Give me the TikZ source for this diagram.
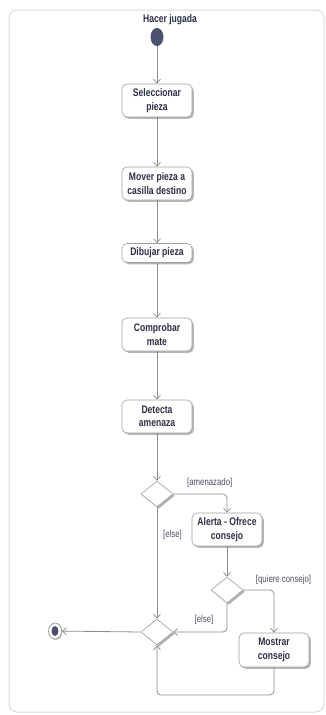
\documentclass[tikz,border=0pt]{standalone}
\usepackage{fontspec}
\setmainfont{Liberation Sans}[FakeStretch=0.78]
\usetikzlibrary{shapes.geometric,arrows.meta,shadows}
\definecolor{txt}{HTML}{2D3047}
\definecolor{lin}{HTML}{8C8C8C}
\definecolor{bord}{HTML}{A0A0A0}
\definecolor{frm}{HTML}{D9D9D2}
\definecolor{dot}{HTML}{4B5270}
\definecolor{shd}{HTML}{B4B4B4}
\begin{document}
\begin{tikzpicture}[x=1pt,y=-1pt,
  actbox/.style={draw=bord,fill=white,rounded corners=5pt,line width=0.6pt,
    minimum width=70pt,inner sep=2pt,align=center,text=txt,
    font=\fontsize{11}{13.5}\selectfont\bfseries,
    drop shadow={shadow xshift=1.8pt,shadow yshift=-1.8pt,fill=shd,opacity=1}},
  decis/.style={diamond,draw=bord,fill=white,line width=0.6pt,inner sep=0pt,
    minimum width=32pt,minimum height=26pt,
    drop shadow={shadow xshift=1.8pt,shadow yshift=-1.8pt,fill=shd,opacity=1}},
  flow/.style={draw=lin,line width=0.8pt,rounded corners=4pt,
    -{Straight Barb[length=4pt,width=7pt,line width=0.7pt]}},
  guard/.style={text=txt!85,font=\fontsize{10}{12}\selectfont,inner sep=0pt}]
\useasboundingbox (0,0) rectangle (325,715);
\draw[frm,line width=1pt,rounded corners=8pt] (9,10) rectangle (324,712);
\node[text=txt,font=\fontsize{11}{13}\selectfont\bfseries] (title) at (170,20) {Hacer jugada};
\node[ellipse,fill=dot,minimum width=13pt,minimum height=18pt,inner sep=0pt] (start) at (157,37) {};
\node[actbox,minimum height=33pt] (sel) at (157,100.5) {Seleccionar\\pieza};
\node[actbox,minimum height=33pt] (mov) at (157,183.5) {Mover pieza a\\casilla destino};
\node[actbox,minimum height=19pt] (dib) at (157,253) {Dibujar pieza};
\node[actbox,minimum height=33pt] (comp) at (157,334.5) {Comprobar\\mate};
\node[actbox,minimum height=33pt] (det) at (157,416.5) {Detecta\\amenaza};
\node[decis] (d1) at (157,494) {};
\node[actbox,minimum height=33pt] (alert) at (227,529.5) {Alerta - Ofrece\\consejo};
\node[decis] (d2) at (227,590) {};
\node[actbox,minimum height=34pt] (most) at (274,650) {Mostrar\\consejo};
\node[decis] (merge) at (157,632) {};
\node[ellipse,draw=bord,fill=white,line width=0.8pt,minimum width=13pt,minimum height=16pt,inner sep=0pt,
  drop shadow={shadow xshift=0.8pt,shadow yshift=-0.8pt,fill=shd,opacity=1}] (final) at (55,631) {};
\node[ellipse,fill=dot,minimum width=7pt,minimum height=10pt,inner sep=0pt] (finalin) at (final.center) {};
\draw[flow] (start) -- (sel);
\draw[flow] (sel) -- (mov);
\draw[flow] (mov) -- (dib);
\draw[flow] (dib) -- (comp);
\draw[flow] (comp) -- (det);
\draw[flow] (det) -- (d1);
\draw[flow] (d1.east) -| (alert.north);
\node[guard,anchor=west] (lam) at (187,483) {[amenazado]};
\draw[flow] (d1.south) -- (merge.north);
\node[guard] (lel1) at (172.5,535) {[else]};
\draw[flow] (alert) -- (d2);
\draw[flow] (d2.east) -| (most.north);
\node[guard] (lqc) at (283.5,580) {[quiere consejo]};
\draw[flow] (d2.south) |- (merge.east);
\node[guard] (lel2) at (204,620) {[else]};
\coordinate (loop) at (274,695);
\draw[flow] (most.south) -- (loop) -| (merge.south);
\draw[flow] (merge.west) -- (final);
\end{tikzpicture}
\end{document}
